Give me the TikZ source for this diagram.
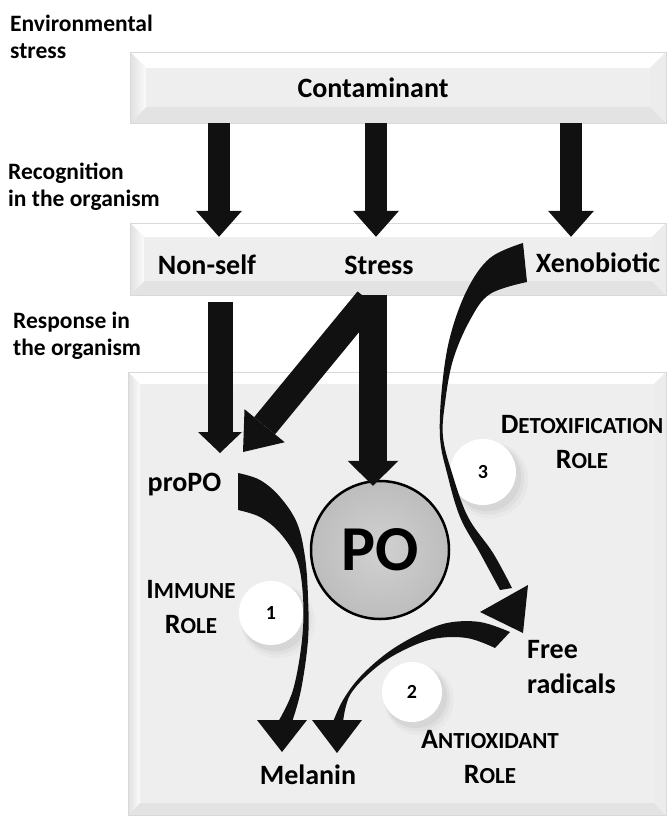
\documentclass[tikz,border=0pt]{standalone}
\usepackage{fontspec}
\setmainfont{Carlito}
\usetikzlibrary{arrows.meta,positioning,calc,shadows}

\definecolor{boxface}{HTML}{EEEEEE}
\definecolor{arrowblack}{HTML}{111111}

\newcommand{\capsc}[2]{{\fontsize{28}{35}\selectfont #1}{\fontsize{23}{35}\selectfont #2}}

\begin{document}
\begin{tikzpicture}[x=1pt,y=-1pt,
  sidelabel/.style={anchor=west, align=left, inner sep=0pt,
    font=\bfseries\fontsize{23.5}{27}\selectfont},
  lbl/.style={inner sep=0pt, font=\bfseries\fontsize{28}{35}\selectfont},
  role/.style={inner sep=0pt, align=center, font=\bfseries\fontsize{28}{35}\selectfont},
  bevelbox/.style={rectangle, inner sep=0pt, fill=boxface, draw=gray!30, line width=0.4pt,
    path picture={
      \path (path picture bounding box.north west) coordinate (pnw)
            (path picture bounding box.north east) coordinate (pne)
            (path picture bounding box.south west) coordinate (psw)
            (path picture bounding box.south east) coordinate (pse);
      \fill[white] (pnw) -- (pne) -- ++(-#1,-#1) -- ($(pnw)+(#1,-#1)$) -- cycle;
      \fill[gray!22] (psw) -- (pse) -- ++(-#1,#1) -- ($(psw)+(#1,#1)$) -- cycle;
      \shade[left color=gray!24, right color=gray!3] (pnw) -- ($(pnw)+(#1,-#1)$)
            -- ($(psw)+(#1,#1)$) -- (psw) -- cycle;
      \fill[gray!15] (pne) -- (pse) -- ++(-#1,#1) -- ($(pne)+(-#1,-#1)$) -- cycle;
    }},
  fatarrow/.style={draw=arrowblack, line width=22pt,
    -{Triangle[length=26pt,width=46pt,line width=0pt]}},
  curvearrow/.style={fill=arrowblack},
  numdisc/.style={circle, fill=white, minimum size=#1, inner sep=0pt,
    font=\bfseries\fontsize{20}{20}\selectfont,
    drop shadow={opacity=0.05, shadow xshift=6pt, shadow yshift=-7pt, shadow scale=1.16},
    drop shadow={opacity=0.07, shadow xshift=5pt, shadow yshift=-6pt, shadow scale=1.09},
    drop shadow={opacity=0.10, shadow xshift=4pt, shadow yshift=-5pt, shadow scale=1.03}},
  pocircle/.style={circle, minimum size=138pt, inner sep=0pt, draw=black, line width=2.5pt,
    inner color=gray!36, outer color=gray!52, font=\bfseries\fontsize{64}{64}\selectfont}
]
\useasboundingbox[fill=white] (0,0) rectangle (666,818);

\node[bevelbox=16pt, minimum width=536pt, minimum height=71pt] (contbox) at (398,87.5) {};
\node[bevelbox=14pt, minimum width=536pt, minimum height=72pt] (midbox) at (398,259) {};
\node[bevelbox=12pt, minimum width=538pt, minimum height=443pt] (orgbox) at (397,593.5) {};

\node[sidelabel] (envlbl) at (10,37) {Environmental\\stress};
\node[sidelabel] (recoglbl) at (8,187) {Recognition\\in the organism};
\node[sidelabel] (resplbl) at (13,336) {Response in\\the organism};

\node[lbl] (contam) at (373,88) {Contaminant};
\node[lbl] (nonself) at (207,265) {Non-self};
\node[lbl] (stress) at (379,265) {Stress};
\node[lbl] (xeno) at (598,263) {Xenobiotic};

\path (219,0) coordinate (colA) (376,0) coordinate (colB) (571,0) coordinate (colC)
      (220,0) coordinate (colN) (373,0) coordinate (colS);
\coordinate (propoin) at (243,452);
\coordinate (nonselfout) at (368,300);

\foreach \c in {colA,colB,colC}
  \draw[fatarrow] (contbox.south -| \c) -- ($(midbox.north -| \c)+(0,14)$);

\node[pocircle] (po) at (380,550) {PO};

\draw[fatarrow, line width=27pt, -{Triangle[length=34pt,width=52pt,line width=0pt]}]
  (nonselfout) -- (propoin);
\draw[fatarrow, line width=25pt, -{Triangle[length=21pt,width=44pt,line width=0pt]}]
  ($(midbox.south -| colN)+(0,7)$) -- ($(propoin -| colN)+(0,1)$);
\draw[fatarrow, line width=28pt, -{Triangle[length=25pt,width=51pt,line width=0pt]}]
  (midbox.south -| colS) -- ($(po.north -| colS)+(0,6)$);

\node[lbl] (propo) at (184.5,485) {proPO};
\node[lbl] (melanin) at (308,775) {Melanin};
\node[lbl, anchor=west, align=left] (freerad) at (527,667) {Free\\radicals};

\node[role] (immune) at (191,607) {\capsc{I}{MMUNE}\\\capsc{R}{OLE}};
\node[role] (detox) at (582,442) {\capsc{D}{ETOXIFICATION}\\\capsc{R}{OLE}};
\node[role] (antiox) at (490,757) {\capsc{A}{NTIOXIDANT}\\\capsc{R}{OLE}};

\node[numdisc=64pt] (n1) at (271,613) {1};
\node[numdisc=60pt] (n2) at (412,692) {2};
\node[numdisc=66pt] (n3) at (483,472) {3};

\fill[curvearrow] plot[smooth, tension=0.6] coordinates {(238,473) (260,480) (280,497) (297,523)
    (305,557) (308,597) (308,640) (301,690) (292,722)}
  -- plot[smooth, tension=0.6] coordinates {(278,722) (293,690) (302,640) (303,597) (297,560)
    (280,533) (260,517) (238,510)} -- cycle;
\fill[curvearrow] (257,720) -- (307,720) -- (282,752) -- cycle;

\fill[curvearrow] plot[smooth, tension=0.6] coordinates {(510,632) (480,622) (447,623) (417,635)
    (387,653) (360,677) (343,700) (333,722)}
  -- plot[smooth, tension=0.6] coordinates {(343,722) (350,695) (373,670) (400,652) (433,639)
    (467,638) (495,648)} -- cycle;
\fill[curvearrow] (312,720) -- (362,720) -- (337,753) -- cycle;

\fill[curvearrow] plot[smooth, tension=0.6] coordinates {(523,243) (490,258) (467,290) (450,337)
    (442,387) (440,437) (447,473) (460,517) (480,553) (500,590)}
  -- plot[smooth, tension=0.6] coordinates {(512,588) (493,553) (468,517) (452,473) (443,437)
    (445,403) (453,360) (470,320) (490,294) (527,282)} -- cycle;
\fill[curvearrow] (528,585) -- (523,633) -- (480,612) -- cycle;

\end{tikzpicture}
\end{document}
